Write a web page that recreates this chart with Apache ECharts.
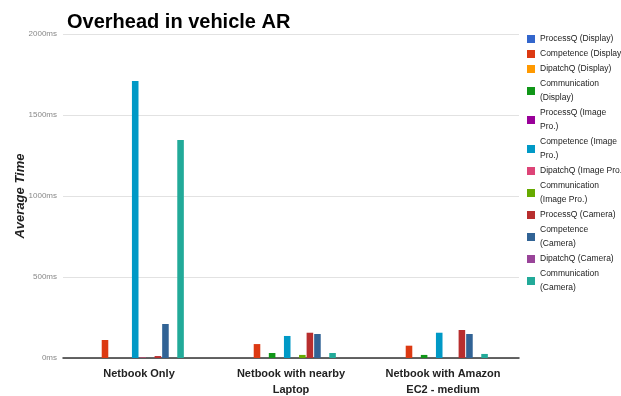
<!DOCTYPE html>
<html>
<head>
<meta charset="utf-8">
<style>
  html, body { margin: 0; padding: 0; background: #fff; }
  #chart { width: 621px; height: 396px; }
</style>
<script src="https://cdn.jsdelivr.net/npm/echarts@6/dist/echarts.min.js"></script>
</head>
<body>
<div id="chart"></div>
<script>
// Test setups along the x axis
const categories = ['Netbook Only', 'Netbook with nearby\nLaptop', 'Netbook with Amazon\nEC2 - medium'];

// Series names, in legend order
const seriesNames = [
  'ProcessQ (Display)', 'Competence (Display)', 'DipatchQ (Display)', 'Communication (Display)',
  'ProcessQ (Image Pro.)', 'Competence (Image Pro.)', 'DipatchQ (Image Pro.)', 'Communication (Image Pro.)',
  'ProcessQ (Camera)', 'Competence (Camera)', 'DipatchQ (Camera)', 'Communication (Camera)'
];

// Legend text as it wraps in the side panel
const legendLabels = [
  'ProcessQ (Display)', 'Competence (Display)', 'DipatchQ (Display)', 'Communication\n(Display)',
  'ProcessQ (Image\nPro.)', 'Competence (Image\nPro.)', 'DipatchQ (Image Pro.)', 'Communication\n(Image Pro.)',
  'ProcessQ (Camera)', 'Competence\n(Camera)', 'DipatchQ (Camera)', 'Communication\n(Camera)'
];

// Average time in ms, one value per setup
const processQDisplay      = [0, 0, 0];
const competenceDisplay    = [111, 86, 76];
const dipatchQDisplay      = [0, 0, 0];
const commDisplay          = [0, 31, 19];
const processQImage        = [0, 0, 0];
const competenceImage      = [1710, 136, 156];
const dipatchQImage        = [3, 0, 0];
const commImage            = [0, 19, 0];
const processQCamera       = [12, 156, 173];
const competenceCamera     = [210, 148, 148];
const dipatchQCamera       = [0, 0, 0];
const commCamera           = [1346, 31, 25];

const seriesValues = [
  processQDisplay, competenceDisplay, dipatchQDisplay, commDisplay,
  processQImage, competenceImage, dipatchQImage, commImage,
  processQCamera, competenceCamera, dipatchQCamera, commCamera
];

const yTicks = [0, 500, 1000, 1500, 2000];

const palette = ['#3366cc', '#dc3912', '#ff9900', '#109618', '#990099', '#0099c6',
                 '#dd4477', '#66aa00', '#b82e2e', '#316395', '#994499', '#22aa99'];

const chart = echarts.init(document.getElementById('chart'), null, { renderer: 'canvas' });

chart.setOption({
  animation: false,
  color: palette,
  title: {
    text: 'Overhead in vehicle AR',
    left: 62,
    top: 7,
    textStyle: { fontFamily: 'Liberation Sans, Arial, sans-serif', fontSize: 20, fontWeight: 'bold', color: '#000' }
  },
  legend: {
    orient: 'vertical',
    left: 527,
    top: 32,
    padding: 0,
    itemWidth: 8,
    itemHeight: 8,
    itemGap: 1,
    icon: 'rect',
    data: seriesNames,
    formatter: function (name) { return legendLabels[seriesNames.indexOf(name)]; },
    textStyle: { fontFamily: 'Liberation Sans, Arial, sans-serif', fontSize: 8.5, lineHeight: 14, color: '#222' }
  },
  grid: { left: 63, right: 102, top: 34, bottom: 38, containLabel: false, outerBoundsMode: 'none' },
  xAxis: {
    type: 'category',
    data: categories,
    axisLine: { lineStyle: { color: '#333', width: 1.5 } },
    axisTick: { show: false },
    axisLabel: {
      fontFamily: 'Liberation Sans, Arial, sans-serif', fontSize: 11, fontWeight: 'bold',
      color: '#222', lineHeight: 16, margin: 8
    }
  },
  yAxis: {
    type: 'value',
    min: yTicks[0],
    max: yTicks[yTicks.length - 1],
    interval: 500,
    name: 'Average Time',
    nameLocation: 'middle',
    nameGap: 36,
    nameMoveOverlap: false,
    nameTextStyle: { fontFamily: 'Liberation Sans, Arial, sans-serif', fontSize: 13, fontWeight: 'bold', fontStyle: 'italic', color: '#222' },
    axisLine: { show: false },
    axisTick: { show: false },
    splitLine: { lineStyle: { color: '#e2e2e2', width: 1 } },
    axisLabel: {
      formatter: function (v) { return v + 'ms'; },
      fontFamily: 'Liberation Sans, Arial, sans-serif', fontSize: 8, color: '#888', margin: 6
    }
  },
  series: seriesNames.map(function (name, i) {
    return {
      name: name,
      type: 'bar',
      data: seriesValues[i],
      barGap: '15%',
      barCategoryGap: '41%'
    };
  })
});
</script>
</body>
</html>
